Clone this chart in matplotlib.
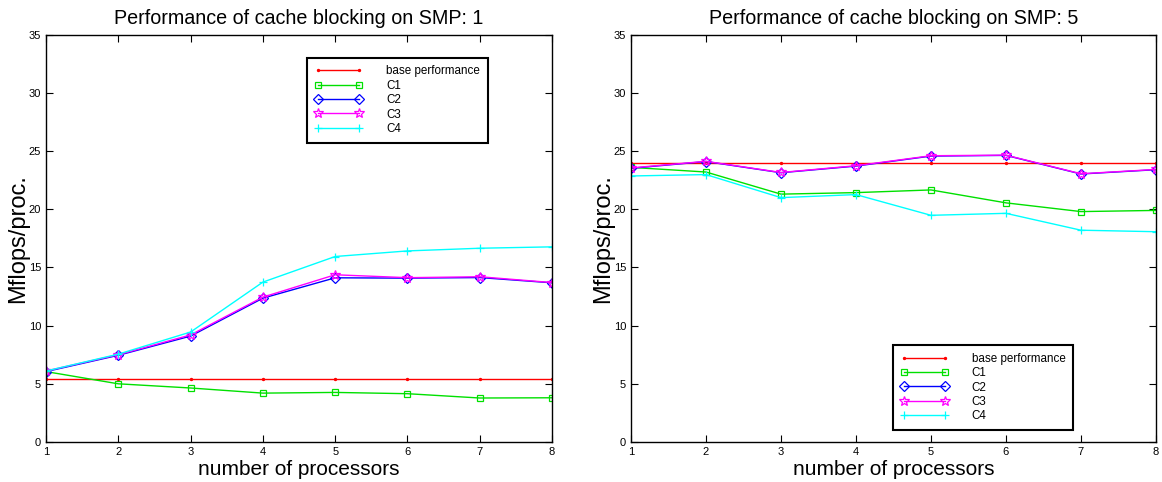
import matplotlib
matplotlib.use("Agg")
import matplotlib.pyplot as plt

plt.rcParams['font.family'] = ['Liberation Sans', 'DejaVu Sans']

procs = [1, 2, 3, 4, 5, 6, 7, 8]
series_names = ["base performance", "C1", "C2", "C3", "C4"]

# SMP: 1
smp1_base = [5.4, 5.4, 5.4, 5.4, 5.4, 5.4, 5.4, 5.4]
smp1_c1 = [6.05, 5.0, 4.64, 4.2, 4.26, 4.15, 3.78, 3.8]
smp1_c2 = [6.05, 7.45, 9.1, 12.36, 14.11, 14.08, 14.13, 13.68]
smp1_c3 = [6.1, 7.5, 9.2, 12.45, 14.37, 14.12, 14.2, 13.7]
smp1_c4 = [6.1, 7.55, 9.45, 13.74, 15.94, 16.42, 16.65, 16.77]

# SMP: 5
smp5_base = [23.95, 23.95, 23.95, 23.95, 23.95, 23.95, 23.95, 23.95]
smp5_c1 = [23.6, 23.2, 21.3, 21.43, 21.66, 20.55, 19.8, 19.9]
smp5_c2 = [23.52, 24.1, 23.14, 23.71, 24.57, 24.63, 23.03, 23.4]
smp5_c3 = [23.55, 24.12, 23.16, 23.74, 24.6, 24.65, 23.05, 23.42]
smp5_c4 = [22.86, 22.98, 21.0, 21.26, 19.48, 19.65, 18.2, 18.07]

styles = [
    dict(color="red", marker=".", markersize=3),
    dict(color="#00e000", marker="s", markersize=5, markerfacecolor="none"),
    dict(color="blue", marker="D", markersize=5, markerfacecolor="none"),
    dict(color="magenta", marker="*", markersize=7, markerfacecolor="none"),
    dict(color="cyan", marker="+", markersize=6),
]


def draw_panel(ax, data, title, legend_anchor, legend_loc, ylabel_x):
    for name, vals, st in zip(series_names, data, styles):
        ax.plot(procs, vals, label=name, linewidth=1.0, markeredgewidth=0.9, **st)
    ax.set_xlim(1, 8)
    ax.set_ylim(0, 35)
    ax.set_xticks(procs)
    ax.set_yticks(range(0, 36, 5))
    ax.tick_params(direction="in", top=True, right=True, labelsize=8, length=5)
    ax.set_title(title, fontsize=14.2, pad=8)
    ax.set_xlabel("number of processors", fontsize=15, labelpad=2)
    ax.set_ylabel("Mflops/proc.", fontsize=17)
    ax.yaxis.set_label_coords(ylabel_x, 0.5)
    for sp in ax.spines.values():
        sp.set_linewidth(1.0)
    leg = ax.legend(loc=legend_loc, bbox_to_anchor=legend_anchor, fontsize=8.4,
                    numpoints=2, handlelength=4.1, handletextpad=2.0,
                    fancybox=False, framealpha=1, edgecolor="black",
                    borderpad=0.66, labelspacing=0.21, borderaxespad=0)
    leg.get_frame().set_linewidth(1.5)


fig = plt.figure(figsize=(11.62, 4.82), dpi=100)
ax1 = fig.add_axes([0.0396, 0.083, 0.4355, 0.845])
ax2 = fig.add_axes([0.543, 0.083, 0.4518, 0.845])

draw_panel(ax1, [smp1_base, smp1_c1, smp1_c2, smp1_c3, smp1_c4],
           "Performance of cache blocking on SMP: 1", (0.516, 0.944), "upper left", -0.033)
draw_panel(ax2, [smp5_base, smp5_c1, smp5_c2, smp5_c3, smp5_c4],
           "Performance of cache blocking on SMP: 5", (0.499, 0.029), "lower left", -0.032)

fig.savefig("out.png", dpi=100)
